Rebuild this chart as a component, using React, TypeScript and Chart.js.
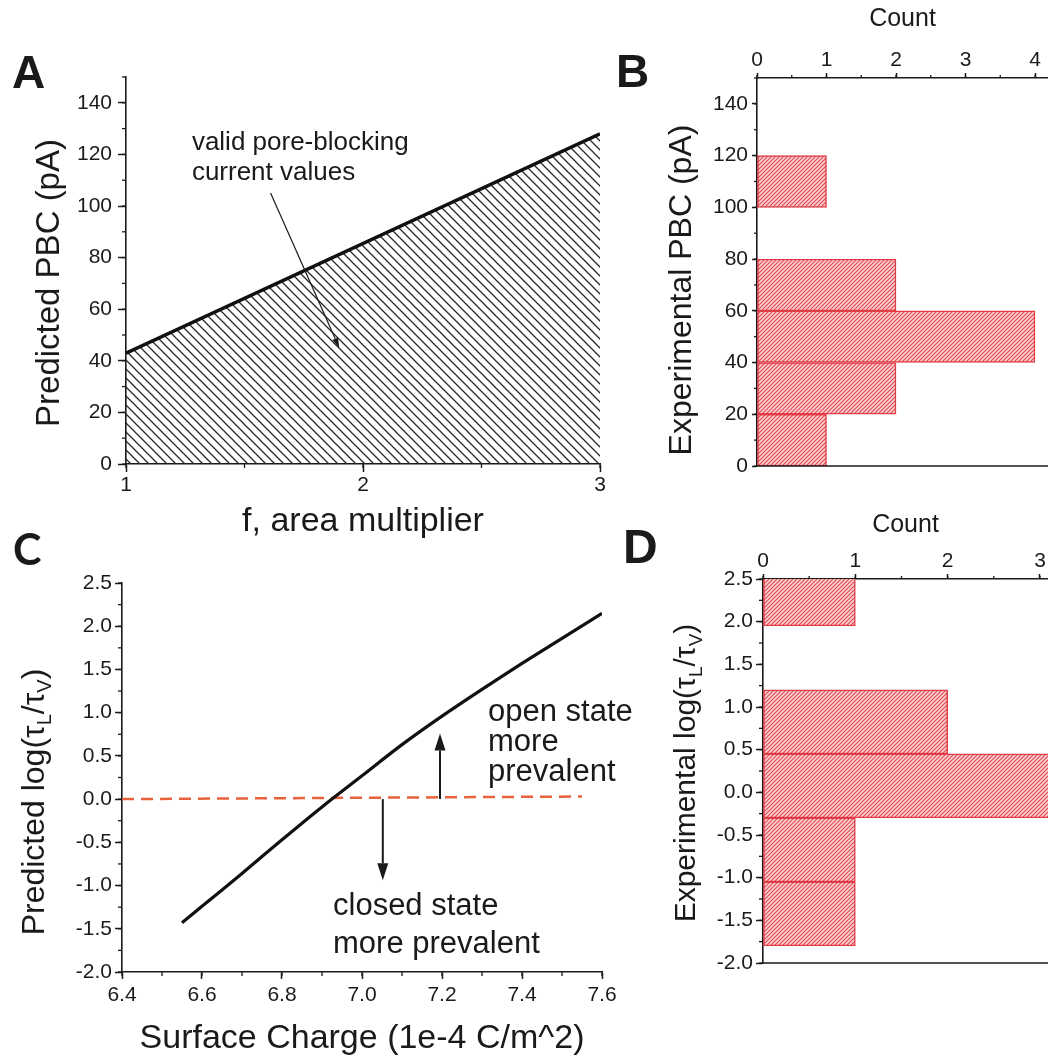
import React, { useEffect, useRef } from 'react';
import { Chart, registerables } from 'chart.js';

Chart.register(...registerables);

const FONT = '"Liberation Sans", Arial, Helvetica, sans-serif';
const INK = '#1a1a1a';
const BAR_RED = '#e23c46';
const DASH_ORANGE = '#e9623c';

// ---------- Panel A: predicted pore-blocking current ----------
const areaMultiplier = [1, 3];
const predictedPbc = [43, 128];
const fTicks = [1, 2, 3];
const pbcTicks = [0, 20, 40, 60, 80, 100, 120, 140];

// ---------- Panel B: experimental PBC histogram ----------
const expPbcBinCenters = [10, 30, 50, 70, 110];
const expPbcCounts = [1, 2, 4, 2, 1];
const countTicksB = [0, 1, 2, 3, 4];

// ---------- Panel C: predicted log ratio vs surface charge ----------
const surfaceCharge = [6.55, 6.6, 6.7, 6.8, 6.9, 7.0, 7.1, 7.2, 7.3, 7.4, 7.5, 7.6];
const predictedLogRatio = [-1.43, -1.24, -0.86, -0.47, -0.09, 0.27, 0.63, 0.96, 1.27, 1.57, 1.86, 2.15];
const equalityCharge = [6.4, 7.55];
const equalityLevel = [0, 0.03];
const chargeTicks = [6.4, 6.6, 6.8, 7.0, 7.2, 7.4, 7.6];
const logTicks = [-2, -1.5, -1, -0.5, 0, 0.5, 1, 1.5, 2, 2.5];

// ---------- Panel D: experimental log ratio histogram ----------
const expLogBinCenters = [-1.425, -0.675, 0.075, 0.825, 2.325];
const expLogCounts = [1, 1, 4, 2, 1];
const countTicksD = [0, 1, 2, 3];

// ---------- annotations (data coordinates) ----------
const noteA = ['valid pore-blocking', 'current values'];
const noteAAnchor = [1.278, 121.7];
const pointerA = [1.61, 105, 1.9, 45];
const noteOpen = ['open state', 'more', 'prevalent'];
const noteOpenAnchor = [7.315, 0.9];
const noteClosed = ['closed state', 'more prevalent'];
const noteClosedAnchor = [6.9275, -1.34];
const arrowOpen = [7.195, 0, 7.195, 0.76];
const arrowClosed = [7.052, 0, 7.052, -0.94];

type Part = { t: string; sub?: boolean };

function hatch(size: number, color: string, lw: number, dir: 'back' | 'fwd', bg?: string) {
  const c = document.createElement('canvas');
  c.width = size;
  c.height = size;
  const g = c.getContext('2d') as CanvasRenderingContext2D;
  if (bg) {
    g.fillStyle = bg;
    g.fillRect(0, 0, size, size);
  }
  g.strokeStyle = color;
  g.lineWidth = lw;
  g.beginPath();
  if (dir === 'back') {
    g.moveTo(-1, -1); g.lineTo(size + 1, size + 1);
    g.moveTo(-1, size - 1); g.lineTo(1, size + 1);
    g.moveTo(size - 1, -1); g.lineTo(size + 1, 1);
  } else {
    g.moveTo(-1, size + 1); g.lineTo(size + 1, -1);
    g.moveTo(-1, 1); g.lineTo(1, -1);
    g.moveTo(size - 1, size + 1); g.lineTo(size + 1, size - 1);
  }
  g.stroke();
  return g.createPattern(c, 'repeat') as CanvasPattern;
}

function drawArrow(ctx: CanvasRenderingContext2D, x0: number, y0: number, x1: number, y1: number, lw: number, hl: number, hw: number) {
  const ang = Math.atan2(y1 - y0, x1 - x0);
  const bx = x1 - hl * Math.cos(ang);
  const by = y1 - hl * Math.sin(ang);
  ctx.lineWidth = lw;
  ctx.beginPath();
  ctx.moveTo(x0, y0);
  ctx.lineTo(bx, by);
  ctx.stroke();
  ctx.beginPath();
  ctx.moveTo(x1, y1);
  ctx.lineTo(bx + (hw / 2) * Math.sin(ang), by - (hw / 2) * Math.cos(ang));
  ctx.lineTo(bx - (hw / 2) * Math.sin(ang), by + (hw / 2) * Math.cos(ang));
  ctx.closePath();
  ctx.fill();
}

function drawRich(ctx: CanvasRenderingContext2D, parts: Part[], cx: number, cy: number, size: number) {
  ctx.save();
  ctx.translate(cx, cy);
  ctx.rotate(-Math.PI / 2);
  const sub = Math.round(size * 0.62);
  let total = 0;
  const widths = parts.map((p) => {
    ctx.font = `${p.sub ? sub : size}px ${FONT}`;
    const w = ctx.measureText(p.t).width;
    total += w;
    return w;
  });
  let x = -total / 2;
  ctx.textAlign = 'left';
  ctx.textBaseline = 'middle';
  ctx.fillStyle = INK;
  parts.forEach((p, i) => {
    ctx.font = `${p.sub ? sub : size}px ${FONT}`;
    ctx.fillText(p.t, x, p.sub ? size * 0.32 : 0);
    x += widths[i];
  });
  ctx.restore();
}

type Decor = {
  letter?: { text: string; x: number; y: number; font: string };
  yTitle?: { parts: Part[]; x: number; y: number; size: number };
  minor?: { scale: string; from: number; to: number; step: number; len: number }[];
  baseLine?: boolean;
  notes?: { lines: string[]; at: number[]; gap: number; size: number }[];
  arrows?: { pts: number[]; lw: number; hl: number; hw: number }[];
};

function makeDecor(cfg: Decor) {
  return {
    id: 'decor',
    afterDraw(chart: any) {
      const ctx: CanvasRenderingContext2D = chart.ctx;
      const ca = chart.chartArea;
      const xs = chart.scales.x;
      const ys = chart.scales.y;
      ctx.save();
      ctx.strokeStyle = INK;
      ctx.fillStyle = INK;
      ctx.lineWidth = 1.3;
      for (const m of cfg.minor || []) {
        const s = chart.scales[m.scale];
        const n = Math.round((m.to - m.from) / m.step);
        for (let i = 0; i <= n; i++) {
          const p = s.getPixelForValue(m.from + i * m.step);
          ctx.beginPath();
          if (s.position === 'left') {
            ctx.moveTo(ca.left, p);
            ctx.lineTo(ca.left - m.len, p);
          } else if (s.position === 'top') {
            ctx.moveTo(p, ca.top);
            ctx.lineTo(p, ca.top - m.len);
          } else {
            ctx.moveTo(p, ca.bottom);
            ctx.lineTo(p, ca.bottom + m.len);
          }
          ctx.stroke();
        }
      }
      if (cfg.baseLine) {
        ctx.lineWidth = 1.6;
        ctx.beginPath();
        ctx.moveTo(ca.left, ca.bottom);
        ctx.lineTo(ca.right, ca.bottom);
        ctx.stroke();
      }
      for (const a of cfg.arrows || []) {
        drawArrow(
          ctx,
          xs.getPixelForValue(a.pts[0]),
          ys.getPixelForValue(a.pts[1]),
          xs.getPixelForValue(a.pts[2]),
          ys.getPixelForValue(a.pts[3]),
          a.lw,
          a.hl,
          a.hw
        );
      }
      for (const n of cfg.notes || []) {
        ctx.font = `${n.size}px ${FONT}`;
        ctx.textAlign = 'left';
        ctx.textBaseline = 'alphabetic';
        const x = xs.getPixelForValue(n.at[0]);
        const y = ys.getPixelForValue(n.at[1]);
        n.lines.forEach((t, i) => ctx.fillText(t, x, y + i * n.gap));
      }
      if (cfg.yTitle) drawRich(ctx, cfg.yTitle.parts, cfg.yTitle.x, cfg.yTitle.y, cfg.yTitle.size);
      if (cfg.letter) {
        ctx.font = cfg.letter.font;
        ctx.textAlign = 'left';
        ctx.textBaseline = 'alphabetic';
        ctx.fillText(cfg.letter.text, cfg.letter.x, cfg.letter.y);
      }
      ctx.restore();
    },
  };
}

type AxisOpts = {
  position: 'left' | 'bottom' | 'top';
  min: number;
  max: number;
  values: number[];
  size: number;
  tl: number;
  pad: number;
  fmt: (v: number) => string;
  title?: { text: string; size: number; top: number; bottom: number };
};

function axis(o: AxisOpts) {
  return {
    type: 'linear',
    position: o.position,
    min: o.min,
    max: o.max,
    offset: false,
    afterFit: (s: any) => {
      if (s.isHorizontal()) s.height = o.size;
      else s.width = o.size;
    },
    afterBuildTicks: (s: any) => {
      s.ticks = o.values.map((v) => ({ value: v }));
    },
    border: { display: true, color: INK, width: 1.6 },
    grid: {
      display: true,
      drawOnChartArea: false,
      drawTicks: true,
      tickLength: o.tl,
      tickWidth: 1.5,
      tickColor: INK,
      offset: false,
    },
    ticks: {
      padding: o.pad,
      autoSkip: false,
      maxRotation: 0,
      minRotation: 0,
      color: INK,
      font: { family: FONT, size: 21 },
      callback: (v: any) => o.fmt(Number(v)),
    },
    title: o.title
      ? {
          display: true,
          text: o.title.text,
          color: INK,
          font: { family: FONT, size: o.title.size },
          padding: { top: o.title.top, bottom: o.title.bottom },
        }
      : { display: false },
  };
}

function hiddenIndexAxis(min: number, max: number) {
  return {
    type: 'linear',
    axis: 'y',
    display: false,
    min,
    max,
    offset: false,
    grid: { offset: false },
    ticks: { display: false },
    afterBuildTicks: (s: any) => {
      s.ticks = [];
    },
  };
}

const baseOptions = {
  responsive: false,
  maintainAspectRatio: false,
  animation: false,
  events: [] as string[],
};

export default function App() {
  const aRef = useRef<HTMLCanvasElement>(null);
  const bRef = useRef<HTMLCanvasElement>(null);
  const cRef = useRef<HTMLCanvasElement>(null);
  const dRef = useRef<HTMLCanvasElement>(null);

  useEffect(() => {
    const blackHatch = hatch(9, '#262626', 1.25, 'back');
    const redHatch = hatch(4, 'rgba(226,52,62,0.9)', 1.1, 'fwd', '#f8d3d5');
    const noPlugins = { legend: { display: false }, tooltip: { enabled: false }, title: { display: false } };

    const chartA = new Chart(aRef.current as HTMLCanvasElement, {
      type: 'line',
      data: {
        datasets: [
          {
            data: areaMultiplier.map((f, i) => ({ x: f, y: predictedPbc[i] })),
            borderColor: '#111',
            borderWidth: 3.5,
            pointRadius: 0,
            fill: 'origin',
            backgroundColor: blackHatch,
            tension: 0,
          },
        ],
      },
      options: {
        ...baseOptions,
        layout: { padding: { top: 77, right: 20, bottom: 0, left: 0 } },
        plugins: noPlugins,
        scales: {
          x: axis({
            position: 'bottom', min: 1, max: 3, values: fTicks, size: 86, tl: 8, pad: 1,
            fmt: (v) => String(v),
            title: { text: 'f, area multiplier', size: 34, top: 0, bottom: 8 },
          }),
          y: axis({
            position: 'left', min: 0, max: 150, values: pbcTicks, size: 126, tl: 8, pad: 6,
            fmt: (v) => String(v),
          }),
        },
      } as any,
      plugins: [
        makeDecor({
          letter: { text: 'A', x: 12, y: 88, font: `bold 46px ${FONT}` },
          yTitle: { parts: [{ t: 'Predicted PBC (pA)' }], x: 50, y: 283, size: 33 },
          minor: [
            { scale: 'y', from: 0, to: 150, step: 10, len: 4 },
            { scale: 'x', from: 1, to: 3, step: 0.5, len: 4 },
          ],
          notes: [{ lines: noteA, at: noteAAnchor, gap: 30, size: 26 }],
          arrows: [{ pts: pointerA, lw: 1.2, hl: 10, hw: 6 }],
        }),
      ],
    });

    const chartB = new Chart(bRef.current as HTMLCanvasElement, {
      type: 'bar',
      data: {
        datasets: [
          {
            data: expPbcBinCenters.map((c, i) => ({ x: expPbcCounts[i], y: c })),
            xAxisID: 'x',
            yAxisID: 'yb',
            backgroundColor: redHatch,
            borderColor: BAR_RED,
            borderWidth: 1.5,
            borderSkipped: false,
            barPercentage: 1,
            categoryPercentage: 1,
          },
        ],
      },
      options: {
        ...baseOptions,
        indexAxis: 'y',
        layout: { padding: { top: 0, right: 0, bottom: 74, left: 0 } },
        plugins: noPlugins,
        scales: {
          x: axis({
            position: 'top', min: 0, max: 4.187, values: countTicksB, size: 78, tl: 5, pad: 0,
            fmt: (v) => String(v),
            title: { text: 'Count', size: 25, top: 4, bottom: 0 },
          }),
          y: axis({
            position: 'left', min: 0, max: 150, values: pbcTicks, size: 157, tl: 5, pad: 4,
            fmt: (v) => String(v),
          }),
          yb: hiddenIndexAxis(0, 150),
        },
      } as any,
      plugins: [
        makeDecor({
          letter: { text: 'B', x: 16, y: 87, font: `bold 46px ${FONT}` },
          yTitle: { parts: [{ t: 'Experimental PBC (pA)' }], x: 82, y: 290, size: 32 },
          minor: [
            { scale: 'y', from: 0, to: 150, step: 10, len: 3 },
            { scale: 'x', from: 0, to: 4, step: 0.5, len: 3 },
          ],
          baseLine: true,
        }),
      ],
    });

    const chartC = new Chart(cRef.current as HTMLCanvasElement, {
      type: 'line',
      data: {
        datasets: [
          {
            data: surfaceCharge.map((s, i) => ({ x: s, y: predictedLogRatio[i] })),
            borderColor: '#111',
            borderWidth: 3.2,
            pointRadius: 0,
            tension: 0.3,
            fill: false,
          },
          {
            data: equalityCharge.map((s, i) => ({ x: s, y: equalityLevel[i] })),
            borderColor: DASH_ORANGE,
            borderWidth: 2.5,
            borderDash: [12, 7],
            pointRadius: 0,
            fill: false,
          },
        ],
      },
      options: {
        ...baseOptions,
        layout: { padding: { top: 53, right: 58, bottom: 0, left: 0 } },
        plugins: noPlugins,
        scales: {
          x: axis({
            position: 'bottom', min: 6.4, max: 7.6, values: chargeTicks, size: 87, tl: 7, pad: 4,
            fmt: (v) => v.toFixed(1),
            title: { text: 'Surface Charge (1e-4 C/m^2)', size: 34, top: 0, bottom: 0 },
          }),
          y: axis({
            position: 'left', min: -2, max: 2.5, values: logTicks, size: 122, tl: 7, pad: 3,
            fmt: (v) => v.toFixed(1),
          }),
        },
      } as any,
      plugins: [
        makeDecor({
          letter: { text: 'C', x: 13, y: 35, font: `bold 43px Lato, ${FONT}` },
          yTitle: {
            parts: [{ t: 'Predicted log(τ' }, { t: 'L', sub: true }, { t: '/τ' }, { t: 'V', sub: true }, { t: ')' }],
            x: 35,
            y: 272,
            size: 32,
          },
          minor: [
            { scale: 'y', from: -2, to: 2.5, step: 0.25, len: 4 },
            { scale: 'x', from: 6.4, to: 7.6, step: 0.1, len: 4 },
          ],
          notes: [
            { lines: noteOpen, at: noteOpenAnchor, gap: 30, size: 31 },
            { lines: noteClosed, at: noteClosedAnchor, gap: 38, size: 31 },
          ],
          arrows: [
            { pts: arrowOpen, lw: 2, hl: 17, hw: 11 },
            { pts: arrowClosed, lw: 2, hl: 17, hw: 11 },
          ],
        }),
      ],
    });

    const chartD = new Chart(dRef.current as HTMLCanvasElement, {
      type: 'bar',
      data: {
        datasets: [
          {
            data: expLogBinCenters.map((c, i) => ({ x: expLogCounts[i], y: c })),
            xAxisID: 'x',
            yAxisID: 'yb',
            backgroundColor: redHatch,
            borderColor: BAR_RED,
            borderWidth: 1.5,
            borderSkipped: false,
            barPercentage: 1,
            categoryPercentage: 1,
          },
        ],
      },
      options: {
        ...baseOptions,
        indexAxis: 'y',
        layout: { padding: { top: 0, right: 0, bottom: 96, left: 0 } },
        plugins: noPlugins,
        scales: {
          x: axis({
            position: 'top', min: 0, max: 3.087, values: countTicksD, size: 79, tl: 5, pad: 0,
            fmt: (v) => String(v),
            title: { text: 'Count', size: 25, top: 10, bottom: 0 },
          }),
          y: axis({
            position: 'left', min: -2, max: 2.5, values: logTicks, size: 143, tl: 7, pad: 3,
            fmt: (v) => v.toFixed(1),
          }),
          yb: hiddenIndexAxis(-2, 2.5),
        },
      } as any,
      plugins: [
        makeDecor({
          letter: { text: 'D', x: 3, y: 63, font: `bold 48px ${FONT}` },
          yTitle: {
            parts: [{ t: 'Experimental log(τ' }, { t: 'L', sub: true }, { t: '/τ' }, { t: 'V', sub: true }, { t: ')' }],
            x: 67,
            y: 273,
            size: 30,
          },
          minor: [
            { scale: 'y', from: -2, to: 2.5, step: 0.25, len: 4 },
            { scale: 'x', from: 0, to: 3, step: 0.5, len: 3 },
          ],
          baseLine: true,
        }),
      ],
    });

    return () => {
      chartA.destroy();
      chartB.destroy();
      chartC.destroy();
      chartD.destroy();
    };
  }, []);

  const abs = (left: number, top: number, w: number, h: number): React.CSSProperties => ({
    position: 'absolute',
    left,
    top,
    width: w,
    height: h,
  });

  return (
    <div style={{ position: 'absolute', left: 0, top: 0, width: 1048, height: 1059, background: '#fff', overflow: 'hidden' }}>
      <canvas ref={aRef} width={620} height={550} style={abs(0, 0, 620, 550)} />
      <canvas ref={bRef} width={448} height={540} style={abs(600, 0, 448, 540)} />
      <canvas ref={cRef} width={660} height={529} style={abs(0, 530, 660, 529)} />
      <canvas ref={dRef} width={428} height={559} style={abs(620, 500, 428, 559)} />
    </div>
  );
}
